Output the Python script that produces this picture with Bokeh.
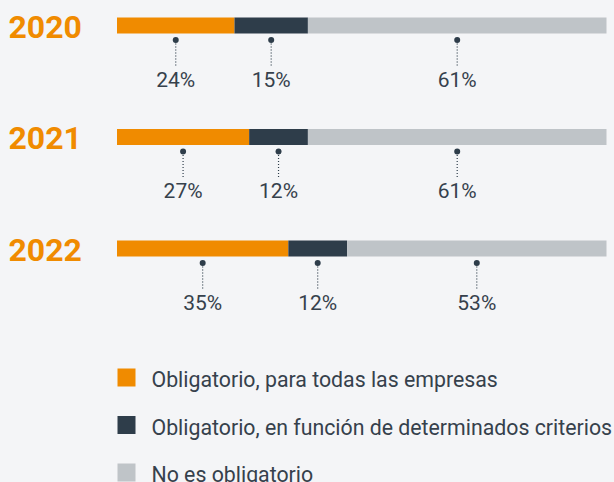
from bokeh.plotting import figure
from bokeh.models import Range1d
from bokeh.core.properties import value
from bokeh.embed import file_html
from bokeh.resources import INLINE

# ---- data ----
years = ["2020", "2021", "2022"]
oblig_todas = [24, 27, 35]
oblig_criterios = [15, 12, 12]
no_oblig = [61, 61, 53]
series_labels = [
    "Obligatorio, para todas las empresas",
    "Obligatorio, en función de determinados criterios",
    "No es obligatorio",
]

# ---- styles ----
BG = "#F4F5F7"
ORANGE = "#F08B00"
DARK = "#2E3D4A"
GREY = "#BFC4C8"
TEXT = "#36414C"
colors = [ORANGE, DARK, GREY]
FONT = value("Roboto")

W, H = 614, 482
bar_left_px, bar_right_px = 116.5, 606.0
scale = (bar_right_px - bar_left_px) / 100.0
x0 = -bar_left_px / scale
x1 = 100 + (W - bar_right_px) / scale

p = figure(width=W, height=H, output_backend="svg", toolbar_location=None,
           x_range=Range1d(x0, x1), y_range=Range1d(H, 0),
           min_border=0, min_border_left=0, min_border_right=0,
           min_border_top=0, min_border_bottom=0)
p.background_fill_color = BG
p.border_fill_color = BG
p.outline_line_color = None
p.axis.visible = False
p.grid.visible = False

row_y = [25 + i * 111.5 for i in range(len(years))]

series = [oblig_todas, oblig_criterios, no_oblig]
lefts = [0.0] * len(years)
dot_x, dot_y, lab_txt = [], [], []
for k, vals in enumerate(series):
    rights = [l + v for l, v in zip(lefts, vals)]
    p.hbar(y=row_y, left=lefts, right=rights, height=16,
           fill_color=colors[k], line_color=None)
    for i, (l, v) in enumerate(zip(lefts, vals)):
        dot_x.append(l + v / 2.0)
        dot_y.append(row_y[i])
        lab_txt.append(f"{v}%")
    lefts = rights

# leader lines + dots
p.segment(x0=dot_x, y0=[y + 15 for y in dot_y], x1=dot_x, y1=[y + 42 for y in dot_y],
          line_color=DARK, line_width=1.2, line_dash="1 2")
p.scatter(x=dot_x, y=[y + 14.5 for y in dot_y], size=6, fill_color=DARK, line_color=None)
p.text(x=dot_x, y=[y + 54 for y in dot_y], text=lab_txt, text_font=FONT,
       text_font_size="21px", text_color=TEXT, text_align="center",
       text_baseline="alphabetic")

# year labels
p.text(x=[x0] * len(years), y=[y + 1 for y in row_y], text=years, x_offset=8,
       text_font=FONT, text_font_size="32px", text_font_style="bold",
       text_color=ORANGE, text_align="left", text_baseline="alphabetic")

# legend (manual)
leg_y = [377 + i * 47.5 for i in range(len(series_labels))]
leg_x = (126 - bar_left_px) / scale
p.rect(x=[leg_x] * 3, y=leg_y, width=18, height=18, width_units="screen",
       height_units="screen", fill_color=colors, line_color=None)
p.text(x=[leg_x] * 3, y=[y + 2 for y in leg_y], text=series_labels, x_offset=25,
       text_font=FONT, text_font_size="21.3px", text_color=TEXT,
       text_align="left", text_baseline="alphabetic")

html = file_html(p, INLINE)
html = html.replace("<head>", "<head><style>html,body{margin:0;padding:0;background:#F4F5F7;overflow:hidden}</style>", 1)
open("out.html", "w").write(html)
